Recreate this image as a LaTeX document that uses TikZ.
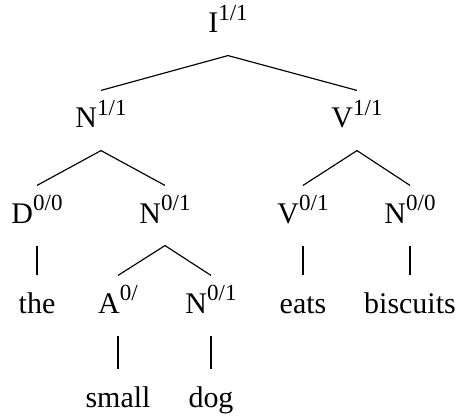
\documentclass[tikz,border=0pt]{standalone}
\usepackage{fontspec}
\setmainfont{Liberation Serif}
\usepackage{tikz}
\newcommand{\cat}[2]{#1\raisebox{4.3pt}{\fontsize{8}{9}\selectfont #2}}
\tikzset{
    lab/.style={inner sep=0, anchor=base, text height=12.85pt, text depth=7.64pt,
        font=\fontsize{10.4}{12}\selectfont},
    br/.style={line width=0.4pt}
}

\begin{document}
\begin{tikzpicture}[x=0.3472pt,y=-0.3472pt]
        \useasboundingbox (0,0) rectangle (456,417);

        % level 0 and 1
        \node[lab] (I) at (228,33) {\cat{I}{1/1}};
        \node[lab] (N11) at (101,128) {\cat{N}{1/1}};
        \node[lab] (V11) at (357,128) {\cat{V}{1/1}};

        % level 2
        \node[lab] (D00) at (37,223) {\cat{D}{0/0}};
        \node[lab] (N01) at (165,223) {\cat{N}{0/1}};
        \node[lab] (V01) at (303,223) {\cat{V}{0/1}};
        \node[lab] (N00) at (410,223) {\cat{N}{0/0}};

        % level 3
        \node[lab] (the) at (37,313) {the};
        \node[lab] (A0) at (118,313) {\cat{A}{0/}};
        \node[lab] (N01b) at (211,313) {\cat{N}{0/1}};
        \node[lab] (eats) at (303,313) {eats};
        \node[lab] (biscuits) at (410,313) {biscuits};

        % level 4
        \node[lab] (small) at (118,407) {small};
        \node[lab] (dog) at (211,407) {dog};

        \foreach \up/\down in {I/N11, I/V11, N11/D00, N11/N01, V11/V01,
            V11/N00, D00/the, N01/A0, N01/N01b, V01/eats, N00/biscuits,
            A0/small, N01b/dog}
            \draw[br] (\up.south) -- (\down.north);
\end{tikzpicture}
\end{document}
